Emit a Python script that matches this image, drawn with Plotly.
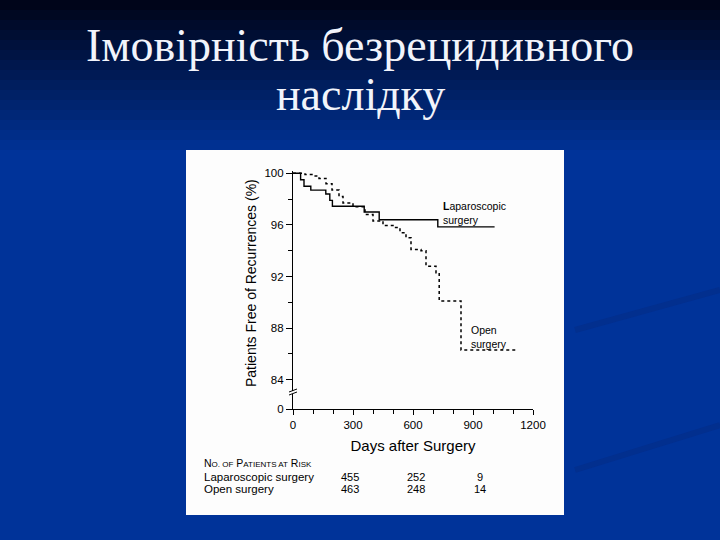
import plotly.graph_objects as go

# --- data ---
lap_days = [0, 38, 55, 89, 164, 184, 197, 356, 431, 724, 1008]
lap_free = [100, 99.5, 99.0, 98.7, 98.4, 97.9, 97.45, 97.0, 96.4, 95.85, 95.85]

open_days = [0, 60, 100, 130, 165, 195, 230, 250, 300, 360, 400, 450, 500,
             535, 565, 590, 640, 665, 715, 731, 840, 1116]
open_free = [100, 99.9, 99.8, 99.6, 99.2, 98.7, 98.2, 97.7, 97.4, 96.8, 96.3,
             95.95, 95.8, 95.4, 95.0, 94.1, 94.0, 92.8, 92.3, 90.1, 86.3, 86.3]

risk_days = [300, 600, 900]
lap_at_risk = [455, 252, 9]
open_at_risk = [463, 248, 14]

y_ticks = [84, 88, 92, 96, 100]
x_ticks = [0, 300, 600, 900, 1200]

ZERO_POS = 81.73  # where "0" sits below the axis break

# --- page geometry (pixels) ---
W, H = 720, 540
L, R, T, B = 293, 187, 171, 131
PW, PH = W - L - R, H - T - B


def px_x(px):
    return (px - L) / PW


def px_y(py):
    return (H - B - py) / PH


fig = go.Figure()

fig.add_trace(go.Scatter(
    x=lap_days, y=lap_free, mode="lines", line_shape="hv",
    line=dict(color="black", width=1.4), showlegend=False,
))
fig.add_trace(go.Scatter(
    x=open_days, y=open_free, mode="lines", line_shape="hv",
    line=dict(color="black", width=1.5, dash="dot"), showlegend=False,
))

shapes = []
# slide background gradient (dark top fading into blue)
top, bot = (0, 5, 26), (0, 51, 153)
n = 16
for i in range(n):
    f = i / (n - 1)
    c = tuple(round(a + (b - a) * f) for a, b in zip(top, bot))
    shapes.append(dict(type="rect", xref="paper", yref="paper", layer="below",
                       x0=px_x(0), x1=px_x(W), y0=px_y(i * 10), y1=px_y(i * 10 + 10),
                       fillcolor="rgb(%d,%d,%d)" % c, line_width=0))
# faint darker streaks on the right
for (xa, ya, xb, yb) in [(575, 330, 720, 290), (575, 470, 720, 425)]:
    shapes.append(dict(type="line", xref="paper", yref="paper", layer="below",
                       x0=px_x(xa), y0=px_y(ya), x1=px_x(xb), y1=px_y(yb),
                       line=dict(color="#022f8e", width=6)))
# white panel holding the chart
shapes.append(dict(type="rect", xref="paper", yref="paper", layer="below",
                   x0=px_x(186), x1=px_x(564), y0=px_y(150), y1=px_y(515),
                   fillcolor="#fdfdfd", line_width=0))
# axis break mark
shapes.append(dict(type="rect", xref="paper", yref="paper",
                   x0=px_x(291), x1=px_x(296), y0=px_y(394), y1=px_y(391),
                   fillcolor="#fdfdfd", line_width=0))
for dy in (0, 3):
    shapes.append(dict(type="line", xref="paper", yref="paper",
                       x0=px_x(289), y0=px_y(395 - dy), x1=px_x(297), y1=px_y(392 - dy),
                       line=dict(color="black", width=1)))

ann = []
title_font = dict(family="Liberation Serif", size=46, color="#f2f4fb")
ann.append(dict(text="Імовірність безрецидивного", x=px_x(360), y=px_y(45),
                xref="paper", yref="paper", showarrow=False, font=title_font,
                xanchor="center", yanchor="middle"))
ann.append(dict(text="наслідку", x=px_x(360), y=px_y(94),
                xref="paper", yref="paper", showarrow=False, font=title_font,
                xanchor="center", yanchor="middle"))

sans = "Liberation Sans"
ann.append(dict(text="Patients Free of Recurrences (%)", x=px_x(251), y=px_y(283),
                xref="paper", yref="paper", showarrow=False, textangle=-90,
                xanchor="center", yanchor="middle",
                font=dict(family=sans, size=14, color="black")))
ann.append(dict(text="<b>L</b>aparoscopic<br>surgery", x=px_x(441), y=px_y(213),
                xref="paper", yref="paper", showarrow=False, align="left",
                xanchor="left", yanchor="middle",
                font=dict(family=sans, size=10.5, color="black")))
ann.append(dict(text="Open<br>surgery", x=px_x(469), y=px_y(337),
                xref="paper", yref="paper", showarrow=False, align="left",
                xanchor="left", yanchor="middle",
                font=dict(family=sans, size=10.5, color="black")))

small = "<span style='font-size:8px'>%s</span>"
risk_title = "N" + small % "O. OF" + " P" + small % "ATIENTS AT" + " R" + small % "ISK"
ann.append(dict(text=risk_title, x=px_x(202), y=px_y(463),
                xref="paper", yref="paper", showarrow=False,
                xanchor="left", yanchor="middle",
                font=dict(family=sans, size=10.5, color="black")))
ann.append(dict(text="Laparoscopic surgery", x=px_x(202), y=px_y(477),
                xref="paper", yref="paper", showarrow=False,
                xanchor="left", yanchor="middle",
                font=dict(family=sans, size=11.5, color="black")))
ann.append(dict(text="Open surgery", x=px_x(202), y=px_y(489),
                xref="paper", yref="paper", showarrow=False,
                xanchor="left", yanchor="middle",
                font=dict(family=sans, size=11.5, color="black")))
shifts = [-3, 3, 7]
for d, a, b, s in zip(risk_days, lap_at_risk, open_at_risk, shifts):
    for v, py in ((a, 477), (b, 489)):
        ann.append(dict(text=str(v), x=d, y=px_y(py), xref="x", yref="paper",
                        xshift=s, showarrow=False, xanchor="center", yanchor="middle",
                        font=dict(family=sans, size=11, color="black")))

fig.update_layout(
    width=W, height=H,
    margin=dict(l=L, r=R, t=T, b=B, pad=0),
    paper_bgcolor="#003399",
    plot_bgcolor="rgba(0,0,0,0)",
    shapes=shapes,
    annotations=ann,
    showlegend=False,
    xaxis=dict(
        range=[0, 1200], tickvals=x_ticks, ticks="outside", ticklen=5,
        tickcolor="black", showline=True, linecolor="black", linewidth=1.2,
        showgrid=False, zeroline=False,
        tickfont=dict(family=sans, size=11.5, color="black"),
        minor=dict(tickvals=list(range(100, 1200, 100)), ticks="outside",
                   ticklen=4, tickcolor="black", showgrid=False),
        title=dict(text="Days after Surgery", standoff=10,
                   font=dict(family=sans, size=15, color="black")),
    ),
    yaxis=dict(
        range=[ZERO_POS, 100.18], tickvals=[ZERO_POS] + y_ticks,
        ticktext=["0"] + [str(v) for v in y_ticks],
        ticks="outside", ticklen=6, tickcolor="black",
        showline=True, linecolor="black", linewidth=1.2,
        showgrid=False, zeroline=False,
        tickfont=dict(family=sans, size=11.5, color="black"),
        minor=dict(tickvals=[86, 90, 94, 98], ticks="outside", ticklen=4,
                   tickcolor="black", showgrid=False),
    ),
)

# the slide fills the whole window, so drop the page's default body margin
fig.write_html("out.html", config={"displayModeBar": False},
               post_script="document.body.style.margin='0';")
